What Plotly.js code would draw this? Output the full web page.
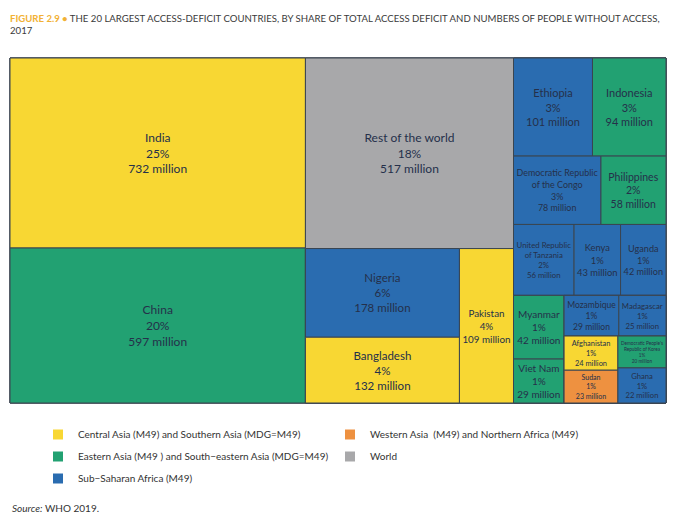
<!DOCTYPE html>
<html>
<head>
<meta charset="utf-8">
<script src="https://cdn.plot.ly/plotly-3.0.1.min.js"></script>
<style>
  html, body { margin: 0; padding: 0; background: #ffffff; }
  #chart { width: 674px; height: 525px; }
</style>
</head>
<body>
<div id="chart"></div>
<script>
// ---- Data ----
const countries = ['India', 'China', 'Rest of the world', 'Nigeria', 'Bangladesh', 'Pakistan',
  'Ethiopia', 'Indonesia', 'Democratic Republic of the Congo', 'Philippines',
  'United Republic of Tanzania', 'Kenya', 'Uganda', 'Myanmar', 'Viet Nam',
  'Mozambique', 'Madagascar', 'Afghanistan', 'Sudan', "Democratic People's Republic of Korea", 'Ghana'];
const shares = [25, 20, 18, 6, 4, 4, 3, 3, 3, 2, 2, 1, 1, 1, 1, 1, 1, 1, 1, 1, 1];
const millions = [732, 597, 517, 178, 132, 109, 101, 94, 78, 58, 56, 43, 42, 42, 29, 29, 25, 24, 23, 20, 22];
const regions = ['CSA', 'ESEA', 'WORLD', 'SSA', 'CSA', 'CSA', 'SSA', 'ESEA', 'SSA', 'ESEA',
  'SSA', 'SSA', 'SSA', 'ESEA', 'ESEA', 'SSA', 'SSA', 'CSA', 'WANA', 'ESEA', 'SSA'];
// cell label lines as printed in each tile
const cellLabels = ['India', 'China', 'Rest of the world', 'Nigeria', 'Bangladesh', 'Pakistan',
  'Ethiopia', 'Indonesia', 'Democratic Republic<br>of the Congo', 'Philippines',
  'United Republic<br>of Tanzania', 'Kenya', 'Uganda', 'Myanmar', 'Viet Nam',
  'Mozambique', 'Madagascar', 'Afghanistan', 'Sudan', "Democratic People's<br>Republic of Korea", 'Ghana'];

// tiling groups (structure of the treemap arrangement)
const countryGroup = ['C1', 'C1', 'C2', 'C2b1', 'C2b1', 'C2b', 'R1', 'R1', 'R2', 'R2',
  'R3', 'R3', 'R3', 'M', 'M', 'Na', 'Na', 'Nb1', 'Nb1', 'Nb2', 'Nb2'];
const groupIds = ['all', 'C1', 'C2', 'C2b', 'C2b1', 'C3', 'R1', 'R2', 'R3', 'R4', 'M', 'N', 'Na', 'Nb', 'Nb1', 'Nb2'];
const groupParents = ['', 'all', 'all', 'C2', 'C2b', 'all', 'C3', 'C3', 'C3', 'C3', 'R4', 'R4', 'N', 'N', 'Nb', 'Nb'];

// legend
const legendKeys = ['CSA', 'ESEA', 'SSA', 'WANA', 'WORLD'];
const legendNames = ['Central Asia (M49) and Southern Asia (MDG=M49)',
  'Eastern Asia (M49 ) and South\u2212eastern Asia (MDG=M49)',
  'Sub\u2212Saharan Africa (M49)',
  'Western Asia  (M49) and Northern Africa (M49)',
  'World'];

// ---- Styles ----
const regionColors = { CSA: '#F8D733', ESEA: '#22A172', SSA: '#2A6CB0', WANA: '#EE9140', WORLD: '#A8A8AA' };
const FONT = 'Lato, "Liberation Sans", sans-serif';
const textSizes = { 'India': 12, 'China': 12, 'Rest of the world': 12, 'Nigeria': 11.5, 'Bangladesh': 11.5, 'Pakistan': 11,
  'Ethiopia': 11, 'Indonesia': 11, 'Philippines': 10.5, "Democratic People's Republic of Korea": 5 };

// ---- Build hierarchy (order siblings by first country index in subtree) ----
const nodes = [];
function depthOf(g) { let d = 0; let i = groupIds.indexOf(g); while (groupParents[i] !== '') { d++; i = groupIds.indexOf(groupParents[i]); } return d; }
function firstIndex(g) {
  let best = Infinity;
  countryGroup.forEach((cg, i) => {
    let cur = cg;
    while (cur) { if (cur === g) { best = Math.min(best, i); break; } cur = groupParents[groupIds.indexOf(cur)]; }
  });
  return best;
}
groupIds.forEach((g, i) => nodes.push({ id: g, parent: groupParents[i], label: '', value: 0, color: '#ffffff', text: '', size: 10, key: firstIndex(g), depth: depthOf(g) }));
countries.forEach((c, i) => nodes.push({
  id: c, parent: countryGroup[i], label: c, value: millions[i], color: regionColors[regions[i]],
  text: cellLabels[i] + '<br>' + shares[i] + '%<br>' + millions[i] + ' million',
  size: textSizes[c] || 10, key: i, depth: 99
}));
nodes.sort((a, b) => a.key - b.key || a.depth - b.depth);

const treemap = {
  type: 'treemap',
  ids: nodes.map(n => n.id),
  labels: nodes.map(n => n.label),
  parents: nodes.map(n => n.parent),
  values: nodes.map(n => n.value),
  text: nodes.map(n => n.text),
  branchvalues: 'remainder',
  sort: false,
  textinfo: 'text',
  textposition: 'middle center',
  textfont: { family: FONT, size: nodes.map(n => n.size), color: '#25304a' },
  hoverinfo: 'skip',
  marker: {
    colors: nodes.map(n => n.color),
    line: { color: '#3a4550', width: 1 },
    pad: { t: 0, l: 0, r: 0, b: 0 },
    depthfade: false
  },
  tiling: { packing: 'slice-dice', pad: 0 },
  pathbar: { visible: false },
  domain: { x: [10 / 674, 666 / 674], y: [1 - 403 / 525, 1 - 58 / 525] },
  showlegend: false
};

const legendTraces = legendKeys.map((k, i) => ({
  type: 'scatter', mode: 'markers', x: [null], y: [null],
  name: legendNames[i],
  legendgroup: k,
  legend: i < 3 ? 'legend' : 'legend2',
  marker: { symbol: 'square', size: 10, color: regionColors[k] },
  hoverinfo: 'skip'
}));

const legendCommon = {
  orientation: 'v', xanchor: 'left', yanchor: 'top',
  font: { family: FONT, size: 10, color: '#333333' },
  bgcolor: 'rgba(0,0,0,0)', borderwidth: 0, tracegroupgap: 3
};

const layout = {
  width: 674, height: 525,
  margin: { l: 0, r: 0, t: 0, b: 0 },
  paper_bgcolor: '#ffffff', plot_bgcolor: '#ffffff',
  title: {
    text: '<b><span style="color:#F2B134">FIGURE 2.9 \u2022</span></b> THE 20 LARGEST ACCESS-DEFICIT COUNTRIES, BY SHARE OF TOTAL ACCESS DEFICIT AND NUMBERS OF PEOPLE WITHOUT ACCESS,<br>2017',
    x: 10 / 674, xanchor: 'left', xref: 'container',
    y: 1 - 22 / 525, yanchor: 'top', yref: 'container',
    font: { family: FONT, size: 9.6, color: '#3a3a3a' }
  },
  xaxis: { visible: false }, yaxis: { visible: false },
  showlegend: true,
  legend: Object.assign({ x: 38 / 674, y: 1 - 420 / 525 }, legendCommon),
  legend2: Object.assign({ x: 330 / 674, y: 1 - 420 / 525 }, legendCommon),
  annotations: [{
    text: '<i>Source:</i> WHO 2019.', xref: 'paper', yref: 'paper',
    x: 10 / 674, y: 1 - 508 / 525, xanchor: 'left', yanchor: 'middle', showarrow: false,
    font: { family: FONT, size: 10, color: '#333333' }
  }]
};

Plotly.newPlot('chart', [treemap].concat(legendTraces), layout, { displayModeBar: false, staticPlot: true });
</script>
</body>
</html>
